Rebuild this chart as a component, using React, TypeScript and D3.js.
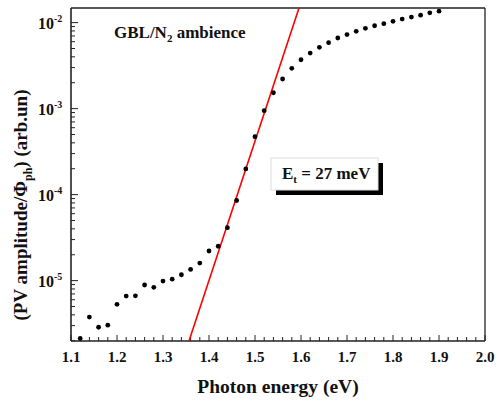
import React from "react";
import * as d3 from "d3";

const energy = [
  1.12, 1.14, 1.16, 1.18, 1.2, 1.22, 1.24, 1.26, 1.28, 1.3,
  1.32, 1.34, 1.36, 1.38, 1.4, 1.42, 1.44, 1.46, 1.48, 1.5,
  1.52, 1.54, 1.56, 1.58, 1.6, 1.62, 1.64, 1.66, 1.68, 1.7,
  1.72, 1.74, 1.76, 1.78, 1.8, 1.82, 1.84, 1.86, 1.88, 1.9,
];
const pvAmplitude = [
  2.13e-6, 3.77e-6, 2.87e-6, 3.03e-6, 5.3e-6, 6.62e-6, 6.66e-6, 8.89e-6, 8.36e-6, 9.89e-6,
  1.04e-5, 1.17e-5, 1.35e-5, 1.6e-5, 2.21e-5, 2.51e-5, 4.13e-5, 8.54e-5, 1.99e-4, 4.71e-4,
  9.46e-4, 1.53e-3, 2.21e-3, 2.94e-3, 3.7e-3, 4.43e-3, 5.16e-3, 5.84e-3, 6.62e-3, 7.27e-3,
  7.92e-3, 8.58e-3, 9.2e-3, 9.71e-3, 1.035e-2, 1.1e-2, 1.16e-2, 1.22e-2, 1.3e-2, 1.36e-2,
];
const fitEnergy = [1.35, 1.6];
const fitAmplitude = [1.56e-6, 1.74e-2];

const xTickValues = [1.1, 1.2, 1.3, 1.4, 1.5, 1.6, 1.7, 1.8, 1.9, 2.0];
const xTickLabels = ["1.1", "1.2", "1.3", "1.4", "1.5", "1.6", "1.7", "1.8", "1.9", "2.0"];
const yTickExponents = [-5, -4, -3, -2];

const W = 499;
const H = 403;
const L = 71, R = 485, T = 8, B = 341;
const FONT = "'Liberation Serif', 'Times New Roman', serif";

export default function App() {
  const x = d3.scaleLinear().domain([1.1, 2.0]).range([L, R]);
  const y = d3.scaleLog().domain([1.986e-6, 0.01479]).range([B, T]);

  const minorX = d3.range(0, 46).map((i) => 1.1 + i * 0.02).filter((v) => v <= 2.0001);
  const majorYVals = yTickExponents.map((e) => Math.pow(10, e));
  const minorY: number[] = [];
  for (let e = -6; e <= -2; e++) {
    for (let m = 2; m <= 9; m++) {
      const v = m * Math.pow(10, e);
      if (v >= 1.986e-6 && v <= 0.01479) minorY.push(v);
    }
  }

  const fitLine = d3
    .line<number>()
    .x((_, i) => x(fitEnergy[i]))
    .y((d) => y(d));

  return (
    <svg
      width={W}
      height={H}
      viewBox={`0 0 ${W} ${H}`}
      style={{ position: "absolute", left: 0, top: 0, background: "#fff" }}
      fontFamily={FONT}
    >
      <defs>
        <clipPath id="plotclip">
          <rect x={L} y={T} width={R - L} height={B - T} />
        </clipPath>
      </defs>
      <rect x={0} y={0} width={W} height={H} fill="#fff" />

      {/* frame */}
      <line x1={L} y1={T} x2={R} y2={T} stroke="#222" strokeWidth={1.3} />
      <line x1={R} y1={T} x2={R} y2={B} stroke="#222" strokeWidth={1.3} />
      <line x1={L} y1={T} x2={L} y2={B} stroke="#222" strokeWidth={1.6} />
      <line x1={L} y1={B} x2={R} y2={B} stroke="#222" strokeWidth={1.6} />

      {/* x ticks */}
      {minorX.map((v, i) => (
        <line key={"mx" + i} x1={x(v)} x2={x(v)} y1={B} y2={B - (i % 5 === 0 ? 6 : 4)} stroke="#222" strokeWidth={1} />
      ))}
      {xTickValues.map((v, i) => (
        <text key={"xl" + i} x={x(v)} y={362} textAnchor="middle" fontSize={15} fontWeight="bold" fill="#111">
          {xTickLabels[i]}
        </text>
      ))}

      {/* y ticks */}
      {minorY.map((v, i) => (
        <line key={"my" + i} x1={L} x2={L + 4} y1={y(v)} y2={y(v)} stroke="#222" strokeWidth={1} />
      ))}
      {majorYVals.map((v, i) => (
        <g key={"yl" + i}>
          <line x1={L} x2={L + 7} y1={y(v)} y2={y(v)} stroke="#222" strokeWidth={1} />
          <text x={38} y={y(v) + 6} fontSize={16} fontWeight="bold" fill="#111">
            10
            <tspan dy={-7} fontSize={10}>{"-" + Math.abs(yTickExponents[i])}</tspan>
          </text>
        </g>
      ))}

      {/* fit line */}
      <path d={fitLine(fitAmplitude) || ""} fill="none" stroke="#ff0000" strokeWidth={1.6} clipPath="url(#plotclip)" />

      {/* data points */}
      {energy.map((e, i) => (
        <circle key={"p" + i} cx={x(e)} cy={y(pvAmplitude[i])} r={2.4} fill="#000" />
      ))}

      {/* annotation */}
      <text x={114} y={38} fontSize={17} fontWeight="bold" fill="#111">
        GBL/N<tspan dy={4} fontSize={11}>2</tspan>
        <tspan dy={-4}> ambience</tspan>
      </text>

      <rect x={276} y={163} width={107} height={32} fill="#000" />
      <rect x={271} y={158} width={107} height={32} fill="#fff" stroke="#ddd" strokeWidth={1} />
      <text x={282} y={179} fontSize={17} fontWeight="bold" fill="#111">
        E<tspan dy={4} fontSize={11}>t</tspan>
        <tspan dy={-4}> = 27 meV</tspan>
      </text>

      {/* axis titles */}
      <text x={278} y={393} textAnchor="middle" fontSize={19.5} fontWeight="bold" fill="#111">
        Photon energy (eV)
      </text>
      <text
        transform={`translate(27, 205) rotate(-90)`}
        textAnchor="middle"
        fontSize={19}
        fontWeight="bold"
        fill="#111"
      >
        (PV amplitude/Φ<tspan dy={5} fontSize={12}>ph</tspan>
        <tspan dy={-5}>) (arb.un)</tspan>
      </text>
    </svg>
  );
}
